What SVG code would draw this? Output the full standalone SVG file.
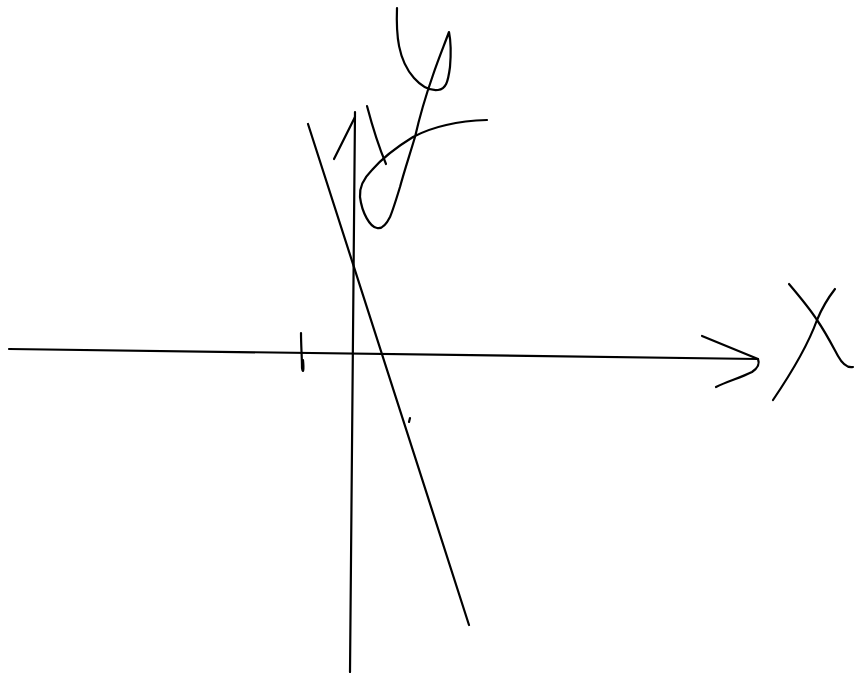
<svg xmlns="http://www.w3.org/2000/svg" width="856" height="673" viewBox="0 0 856 673">
<style>
.s{fill:none;stroke:#000;stroke-width:2.2;stroke-linecap:round;stroke-linejoin:round}
</style>
<rect width="856" height="673" fill="#fff"/>
<g id="x-axis">
<path class="s" d="M9,349 L758,359"/>
<path class="s" d="M702,336 L758,359 C760,364 758,368 752,372 C740,378 728,381 716,387"/>
</g>
<g id="y-axis">
<path class="s" d="M355,112 L350,672"/>
<path class="s" d="M334,159 L355,117"/>
</g>
<g id="line">
<path class="s" d="M308,124 L469,625"/>
</g>
<g id="tick">
<path class="s" d="M301,333 C301,345 302,358 302,368 C303,374 304,370 303,360"/>
<path class="s" d="M410,418 L409,422"/>
</g>
<g id="label-x">
<path class="s" d="M789,284 C800,297 810,309 817,320 C826,333 832,345 838,356 C843,365 848,368 853,367"/>
<path class="s" d="M835,289 C828,298 822,308 817,320 C808,345 792,372 773,400"/>
</g>
<g id="label-y">
<path class="s" d="M397,8 C396,35 398,60 414,78 C422,87 430,91 438,90 C446,89 448,82 450,67 C451,55 451,42 449,32 C443,48 438,60 433,75 C426,95 420,115 415,137 C409,157 404,172 400,187 C396,200 393,210 390,217 C386,225 381,229 377,228 C370,227 362,213 360,197 C359,185 366,176 372,170 C385,155 400,145 413,137 C430,128 455,121 487,120"/>
<path class="s" d="M367,106 C372,125 378,145 386,164"/>
</g>
</svg>
